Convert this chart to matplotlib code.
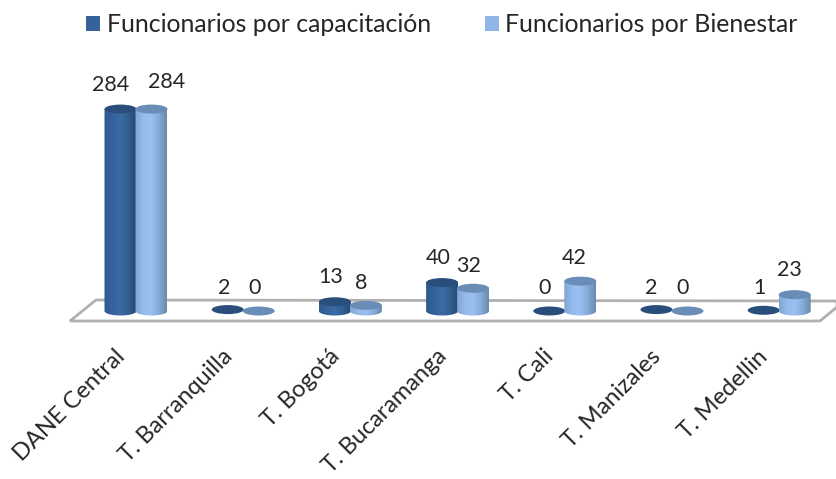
import numpy as np
import matplotlib
matplotlib.use('Agg')
import matplotlib.pyplot as plt
from matplotlib.colors import LinearSegmentedColormap
from matplotlib.patches import Ellipse, Patch, Polygon
from matplotlib.transforms import ScaledTranslation

plt.rcParams['font.family'] = ['Lato', 'DejaVu Sans']

# Datos
categorias = ['DANE Central', 'T. Barranquilla', 'T. Bogotá', 'T. Bucaramanga',
              'T. Cali', 'T. Manizales', 'T. Medellin']
capacitacion = [284, 2, 13, 40, 0, 2, 1]
bienestar = [284, 0, 8, 32, 42, 0, 23]
nombre_capacitacion = 'Funcionarios por capacitación'
nombre_bienestar = 'Funcionarios por Bienestar'

# Desplazamiento de las etiquetas (pixeles)
dx_capacitacion = [-10, -4, -4, -4, -5, -5, -4]
dy_capacitacion = [24, 22, 25, 25, 23, 22, 22]
dx_bienestar = [15, -4, -5, -5, -6, -5, -5]
dy_bienestar = [27, 23, 22, 22, 23, 23, 25]

W, H = 837, 479
paso_px = 107.2
px_por_valor = 0.711
x0_px, y0_px = 136, 311

fig = plt.figure(figsize=(W / 100, H / 100), dpi=100, facecolor='white')
ax = fig.add_axes([0, 0, 1, 1])
ax.set_xlim(-x0_px / paso_px, (W - x0_px) / paso_px)
ax.set_ylim(-(H - y0_px) / px_por_valor, y0_px / px_por_valor)
ax.patch.set_visible(False)
for s in ax.spines.values():
    s.set_visible(False)
ax.spines['bottom'].set_position(('data', 0))
ax.set_yticks([])

# Piso del grafico
piso = Polygon([(70 / W, 1 - 321 / H), (820 / W, 1 - 321 / H), (837 / W, 1 - 307 / H),
                (837 / W, 1 - 301 / H), (96 / W, 1 - 300 / H)], closed=True,
               transform=ax.transAxes, facecolor='white', edgecolor='#b0b0b0',
               linewidth=2, zorder=1)
ax.add_patch(piso)

ancho = 32 / paso_px
alto_elipse = 9 / px_por_valor

cmap_oscuro = LinearSegmentedColormap.from_list(
    'oscuro', ['#2f5a8e', '#34629a', '#3b6ba6', '#33608f', '#254a76'])
cmap_claro = LinearSegmentedColormap.from_list(
    'claro', ['#7fa5d4', '#93bbec', '#9ac1f2', '#86abd9', '#6a8aad'])


def cilindro(xc, valor, cmap, color_tapa, z):
    if valor > 3:
        t = np.linspace(0, np.pi, 40)
        xs = xc + ancho / 2 * np.cos(t)
        ys = -alto_elipse / 2 * np.sin(t)
        contorno = np.column_stack([
            np.r_[xc - ancho / 2, xs[::-1], xc + ancho / 2],
            np.r_[valor, ys[::-1], valor]])
        forma = Polygon(contorno, closed=True, transform=ax.transData,
                        facecolor='none', edgecolor='none')
        ax.add_patch(forma)
        im = ax.imshow(np.linspace(0, 1, 64).reshape(1, -1), cmap=cmap, aspect='auto',
                       extent=(xc - ancho / 2, xc + ancho / 2, -alto_elipse, valor),
                       zorder=z)
        im.set_clip_path(forma)
    ax.add_patch(Ellipse((xc, valor), ancho, alto_elipse, facecolor=color_tapa,
                         edgecolor='none', zorder=z + 0.1))


desp = 15.5 / paso_px
for i in range(len(categorias)):
    cilindro(i - desp, capacitacion[i], cmap_oscuro, '#2a4e7c', 2)
    cilindro(i + desp, bienestar[i], cmap_claro, '#6a8db8', 3)
    ax.annotate(str(capacitacion[i]), (i - desp, capacitacion[i]),
                xytext=(dx_capacitacion[i], dy_capacitacion[i]),
                textcoords='offset pixels', ha='center', va='center',
                fontsize=15.5, color='#262626', zorder=5)
    ax.annotate(str(bienestar[i]), (i + desp, bienestar[i]),
                xytext=(dx_bienestar[i], dy_bienestar[i]),
                textcoords='offset pixels', ha='center', va='center',
                fontsize=15.5, color='#262626', zorder=5)

ax.set_xlim(-x0_px / paso_px, (W - x0_px) / paso_px)
ax.set_ylim(-(H - y0_px) / px_por_valor, y0_px / px_por_valor)

# Etiquetas del eje
ax.set_xticks(range(len(categorias)))
ax.set_xticklabels(categorias, rotation=45, ha='right', va='top',
                   rotation_mode='anchor', fontsize=17, color='#262626')
ax.tick_params(axis='x', length=0, pad=25)
corrimiento = ScaledTranslation(-22 / 100, 0, fig.dpi_scale_trans)
for etiqueta in ax.get_xticklabels():
    etiqueta.set_transform(etiqueta.get_transform() + corrimiento)

# Leyenda
manijas = [Patch(facecolor='#376299', edgecolor='none', label=nombre_capacitacion),
           Patch(facecolor='#8fb5e6', edgecolor='none', label=nombre_bienestar)]
fig.legend(handles=manijas, ncol=2, loc='center left', bbox_to_anchor=(64 / W, 1 - 25 / H),
           frameon=False, fontsize=17.9, handlelength=0.56, handleheight=0.56,
           handletextpad=0.25, columnspacing=2.2, labelcolor='#262626')

fig.savefig('out.png', dpi=100)
